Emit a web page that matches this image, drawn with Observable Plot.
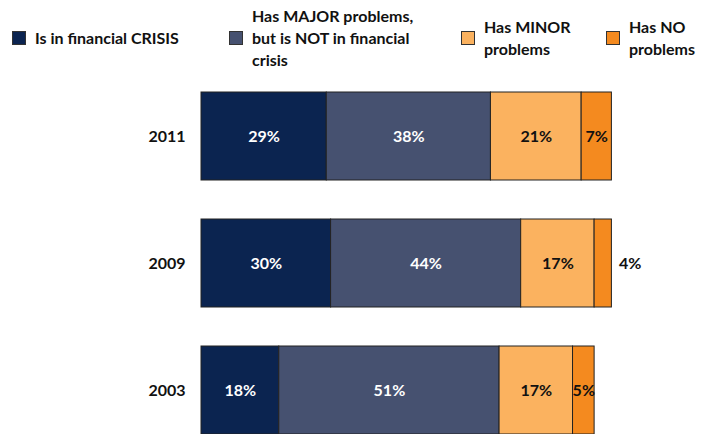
<!DOCTYPE html>
<html><head><meta charset="utf-8">
<script src="https://cdn.jsdelivr.net/npm/d3@7"></script>
<script src="https://cdn.jsdelivr.net/npm/@observablehq/plot@0.6"></script>
<style>
body{margin:0;background:#fff;font-family:Lato,sans-serif;overflow:hidden}
#legend{position:relative;height:82px;width:704px}
.item{position:absolute;top:0;height:76px;display:flex;align-items:center;font-weight:bold;font-size:16px;line-height:22px;color:#111;white-space:pre}
.sw{width:12px;height:12px;border:1px solid #333;margin-right:9px;flex:none}
#chart svg g[aria-label="y-axis tick label"] text{font-weight:bold}
</style></head><body>
<div id="legend"></div><div id="chart"></div>
<script>
const years = ["2011", "2009", "2003"];
const series = ["Is in financial CRISIS", "Has MAJOR problems,\nbut is NOT in financial\ncrisis", "Has MINOR\nproblems", "Has NO\nproblems"];
const crisis = [29, 30, 18];
const major = [38, 44, 51];
const minor = [21, 17, 17];
const noProblems = [7, 4, 5];
const colors = ["#0b2450", "#465170", "#fbb25f", "#f48a1f"];
const legendLeft = [12, 229, 461, 606];

const seriesValues = [crisis, major, minor, noProblems];
const data = [];
years.forEach((y, yi) => {
  seriesValues.forEach((vals, si) => {
    data.push({year: y, series: series[si], si, value: vals[yi]});
  });
});

const legend = document.getElementById("legend");
series.forEach((s, i) => {
  const item = document.createElement("div");
  item.className = "item";
  item.style.left = legendLeft[i] + "px";
  const sw = document.createElement("div");
  sw.className = "sw";
  sw.style.background = colors[i];
  const t = document.createElement("div");
  t.textContent = s;
  item.appendChild(sw);
  item.appendChild(t);
  legend.appendChild(item);
});

const pct = d => d.value + "%";
const chart = Plot.plot({
  width: 704, height: 360,
  marginLeft: 201, marginRight: 71, marginTop: 10, marginBottom: 7,
  style: {fontFamily: "Lato, sans-serif", background: "white"},
  x: {domain: [0, 100], axis: null},
  y: {domain: years, paddingInner: 0.31, paddingOuter: 0, align: 0, axis: null},
  color: {domain: series, range: colors},
  marks: [
    Plot.barX(data, Plot.stackX({x: "value", y: "year", fill: "series", stroke: "#222", strokeWidth: 1, order: null})),
    Plot.text(data, Plot.stackX({x: "value", y: "year", z: "series", order: null,
      text: d => d.si < 2 ? pct(d) : "", fill: "white", fontSize: 16, fontWeight: "bold"})),
    Plot.text(data, Plot.stackX({x: "value", y: "year", z: "series", order: null,
      text: d => d.si >= 2 && d.value >= 5 ? pct(d) : "", fill: "#111", fontSize: 16, fontWeight: "bold"})),
    Plot.text(data, Plot.stackX2({x: "value", y: "year", z: "series", order: null,
      text: d => d.value < 5 ? pct(d) : "", fill: "#111", fontSize: 16, fontWeight: "bold", textAnchor: "start", dx: 7})),
    Plot.axisY({tickSize: 0, tickPadding: 16, fontSize: 16, fontWeight: "bold", fill: "#111", label: null})
  ]
});
document.getElementById("chart").appendChild(chart);
</script>
</body></html>
